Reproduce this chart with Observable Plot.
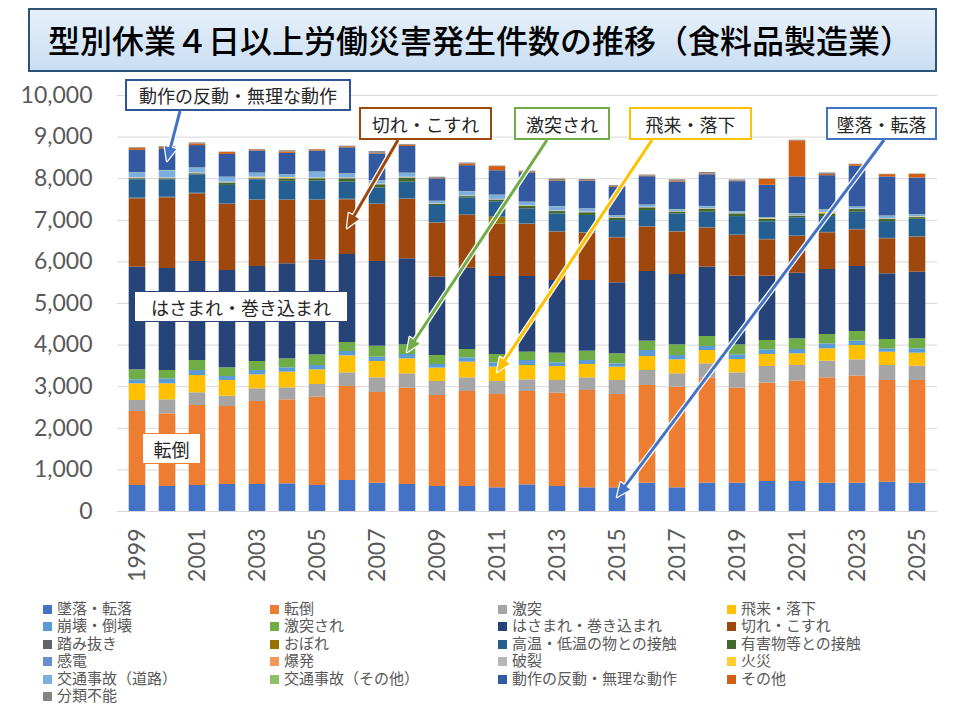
<!DOCTYPE html>
<html><head><meta charset="utf-8">
<script src="https://cdn.jsdelivr.net/npm/d3@7"></script>
<script src="https://cdn.jsdelivr.net/npm/@observablehq/plot@0.6"></script>
<style>
body{margin:0;background:#fff;}
#wrap{position:relative;width:960px;height:720px;overflow:hidden;font-family:"Noto Sans CJK JP",sans-serif;}
#chart{position:absolute;left:0;top:0;}
#title{position:absolute;left:28px;top:8px;width:909px;height:64px;box-sizing:border-box;border:2px solid #2F5473;background:linear-gradient(#e6f0fa,#cadef3);font-size:32px;line-height:59px;padding-left:18px;color:#000;white-space:nowrap;font-weight:500;}
.callout{position:absolute;box-sizing:border-box;background:#fff;font-size:18px;color:#262626;display:flex;align-items:center;justify-content:center;white-space:nowrap;}
.lg{position:absolute;font-size:15px;color:#595959;line-height:17px;white-space:nowrap;}
.lg i{display:inline-block;width:9px;height:9px;margin-right:5px;}
</style></head>
<body><div id="wrap"></div>
<script>
const years = ["1999","2000","2001","2002","2003","2004","2005","2006","2007","2008","2009","2010","2011","2012","2013","2014","2015","2016","2017","2018","2019","2020","2021","2022","2023","2024","2025"];
const categories = ["墜落・転落","転倒","激突","飛来・落下","崩壊・倒壊","激突され","はさまれ・巻き込まれ","切れ・こすれ","踏み抜き","おぼれ","高温・低温の物との接触","有害物等との接触","感電","爆発","破裂","火災","交通事故（道路）","交通事故（その他）","動作の反動・無理な動作","その他","分類不能"];
const colors = ["#4472C4","#ED7D31","#A5A5A5","#FFC000","#5B9BD5","#70AD47","#264478","#9E480E","#636363","#997300","#255E91","#43682B","#698ED0","#F1975A","#B7B7B7","#FFCD33","#7CAFDD","#8CC168","#335AA1","#D26012","#848484"];
const yTicks = [0,1000,2000,3000,4000,5000,6000,7000,8000,9000,10000];

const fall      = [625,601,625,649,649,665,625,745,681,649,601,601,569,641,601,569,569,681,569,681,681,721,721,681,681,705,681];
const tumble    = [1779,1747,1923,1875,1995,2019,2123,2260,2180,2316,2187,2284,2243,2244,2244,2340,2243,2348,2420,2524,2284,2364,2412,2532,2572,2444,2468];
const collide   = [264,336,305,248,305,289,305,328,352,344,337,328,313,280,304,304,337,360,320,345,368,401,377,401,393,361,345];
const flying    = [401,385,416,377,336,376,352,409,393,361,321,377,345,345,337,321,321,337,337,320,321,288,280,296,344,320,312];
const collapse  = [96,120,120,96,104,105,105,104,104,104,88,104,104,120,88,96,80,144,104,96,112,112,104,120,105,80,104];
const struck    = [240,200,241,209,217,216,256,216,264,232,216,200,200,200,232,224,240,225,256,241,240,225,257,225,232,225,241];
const caught    = [2468,2452,2380,2339,2283,2284,2284,2116,2036,2068,1883,1955,1875,1819,1747,1699,1707,1674,1691,1666,1651,1546,1578,1562,1562,1578,1602];
const cut       = [1643,1699,1626,1587,1587,1522,1426,1314,1370,1426,1298,1266,1250,1250,1162,1138,1082,1066,1018,938,978,874,882,882,882,842,842];
const stepping  = [14,12,13,11,12,10,12,11,13,12,10,9,11,10,9,10,8,9,10,9,8,9,10,8,9,8,9];
const drowning  = [2,3,1,2,2,1,2,3,1,2,2,1,165,3,1,2,2,1,2,1,2,1,2,2,1,2,1];
const hotCold   = [442,418,443,445,483,451,451,411,386,403,413,413,370,365,428,412,404,389,428,373,444,424,436,380,413,404,420];
const harmful   = [24,24,24,56,24,56,56,80,73,96,24,32,40,56,57,65,56,64,41,70,64,60,40,64,64,56,40];
const electric  = [5,4,3,4,5,3,4,4,3,4,3,2,3,3,2,3,2,3,3,2,3,2,3,2,3,2,2];
const explosion = [6,5,4,5,6,4,5,5,4,6,4,3,4,5,3,4,4,3,4,5,3,4,3,4,3,4,3];
const rupture   = [12,10,10,10,10,10,10,10,10,10,8,8,8,8,8,8,6,6,6,6,6,6,6,6,6,6,6];
const fire      = [4,4,4,3,20,15,3,3,3,3,3,3,3,3,3,3,3,3,3,3,3,8,3,25,3,3,10];
const roadTraffic  = [112,170,115,115,90,63,135,91,75,91,55,95,95,79,95,71,42,48,42,48,34,14,42,61,42,58,43];
const otherTraffic = [7,8,6,7,7,6,8,7,6,7,6,7,8,6,7,6,5,6,6,5,6,5,6,5,6,6,5];
const motion    = [537,521,537,545,529,513,501,625,641,641,537,625,585,705,609,665,682,681,657,761,721,778,882,817,977,938,882];
const others    = [50,42,40,46,20,34,28,26,16,30,15,40,100,25,16,14,20,16,20,20,16,140,866,30,40,56,88];
const unknown   = [14,14,24,10,18,30,12,14,40,18,25,24,12,15,40,26,20,24,36,36,24,10,16,34,10,8,8];

const series = [fall,tumble,collide,flying,collapse,struck,caught,cut,stepping,drowning,hotCold,harmful,electric,explosion,rupture,fire,roadTraffic,otherTraffic,motion,others,unknown];

const rows = [];
years.forEach((year, i) => {
  categories.forEach((category, k) => rows.push({year, category, value: series[k][i]}));
});

// callouts: label, border colour, box (layout), arrow start (layout), arrow target (data)
const callouts = [
  {label:"動作の反動・無理な動作", color:"#2F5597", arrow:"#4472C4", box:[125,79,226,32], from:[180,111], year:"2000", value:8413},
  {label:"切れ・こすれ", color:"#9E480E", arrow:"#9E480E", box:[359,107,133,33], from:[398,140], year:"2006", value:6800},
  {label:"激突され", color:"#70AD47", arrow:"#70AD47", box:[514,107,96,33], from:[547,140], year:"2008", value:3822},
  {label:"飛来・落下", color:"#FFC000", arrow:"#FFC000", box:[629,107,123,33], from:[652,140], year:"2011", value:3341},
  {label:"墜落・転落", color:"#4472C4", arrow:"#4472C4", box:[826,107,111,33], from:[884,140], year:"2015", value:336}
];
const plainLabels = [
  {label:"はさまれ・巻き込まれ", color:"#264478", box:[134,291,214,31]},
  {label:"転倒", color:"#ED7D31", box:[142,433,59,31]}
];

const chart = Plot.plot({
  width: 960, height: 590,
  marginTop: 95, marginBottom: 79, marginLeft: 117, marginRight: 23,
  style: {fontFamily: "Lato, sans-serif", fontSize: "23px", color: "#595959", background: "transparent", overflow: "visible"},
  x: {type: "band", domain: years, padding: 0},
  y: {domain: [0, 10000]},
  color: {domain: categories, range: colors},
  marks: [
    Plot.gridY(yTicks, {stroke: "#d9d9d9", strokeOpacity: 1}),
    Plot.barY(rows, {x: "year", y: "value", fill: "category", insetLeft: 6.7, insetRight: 6.7}),
    Plot.axisY(yTicks, {tickFormat: d3.format(","), tickSize: 0, tickPadding: 25, label: null}),
    Plot.axisX({tickRotate: -90, tickSize: 0, tickPadding: 17, label: null, tickFormat: d => (+d % 2 === 1 ? d : "")})
  ]
});
chart.id = "chart";
const wrap = document.getElementById("wrap");
wrap.appendChild(chart);

// arrows anchored to data through the chart's scales
const sx = chart.scale("x"), sy = chart.scale("y");
const g = d3.select(chart).append("g");
function drawArrow(x1, y1, x2, y2, color) {
  const dx = x2 - x1, dy = y2 - y1, L = Math.hypot(dx, dy), ux = dx / L, uy = dy / L;
  const hl = 14, hw = 6;
  const bx = x2 - ux * hl, by = y2 - uy * hl, px = -uy, py = ux;
  const tri = `M${x2},${y2}L${bx + px * hw},${by + py * hw}L${bx - px * hw},${by - py * hw}Z`;
  g.append("line").attr("x1", x1).attr("y1", y1).attr("x2", bx).attr("y2", by).attr("stroke", "#fff").attr("stroke-width", 5.5);
  g.append("path").attr("d", tri).attr("fill", "#fff").attr("stroke", "#fff").attr("stroke-width", 2.5).attr("stroke-linejoin", "round");
  g.append("line").attr("x1", x1).attr("y1", y1).attr("x2", bx + ux * 2).attr("y2", by + uy * 2).attr("stroke", color).attr("stroke-width", 3);
  g.append("path").attr("d", tri).attr("fill", color);
}
callouts.forEach(c => {
  const tx = sx.apply(c.year) + sx.bandwidth / 2;
  const ty = sy.apply(c.value);
  drawArrow(c.from[0], c.from[1], tx, ty, c.arrow);
});

// title
const title = document.createElement("div");
title.id = "title";
title.textContent = "型別休業４日以上労働災害発生件数の推移（食料品製造業）";
wrap.appendChild(title);

// callout boxes
[...callouts, ...plainLabels].forEach(c => {
  const d = document.createElement("div");
  d.className = "callout";
  d.style.left = c.box[0] + "px"; d.style.top = c.box[1] + "px";
  d.style.width = c.box[2] + "px"; d.style.height = c.box[3] + "px";
  d.style.border = (c.arrow ? 2 : 1) + "px solid " + c.color;
  d.textContent = c.label;
  wrap.appendChild(d);
});

// legend (4 columns, row-major like the original)
const colX = [43, 270, 498, 727];
categories.forEach((cat, k) => {
  const d = document.createElement("div");
  d.className = "lg";
  d.style.left = colX[k % 4] + "px";
  d.style.top = (599 + Math.floor(k / 4) * 17.4) + "px";
  const sw = document.createElement("i");
  sw.style.background = colors[k];
  d.appendChild(sw);
  d.appendChild(document.createTextNode(cat));
  wrap.appendChild(d);
});
</script>
</body></html>
